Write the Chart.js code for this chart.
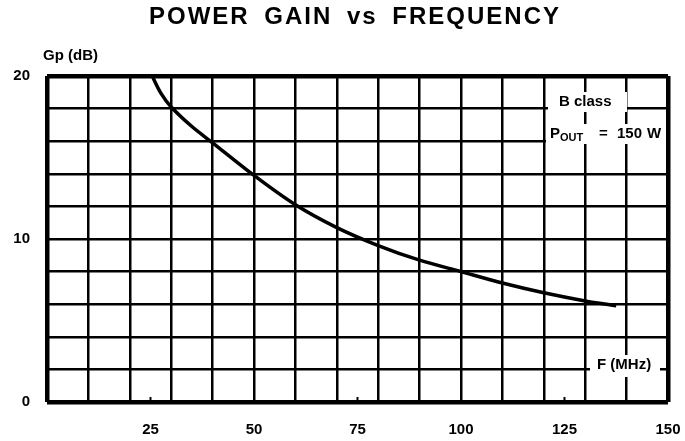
<!DOCTYPE html>
<html>
<head>
<meta charset="utf-8">
<script src="https://cdn.jsdelivr.net/npm/chart.js@4.4.0/dist/chart.umd.min.js"></script>
<style>
  html, body { margin: 0; padding: 0; background: #fff; }
  #wrap { width: 685px; height: 441px; position: relative; }
</style>
</head>
<body>
<div id="wrap"><canvas id="myChart"></canvas></div>
<script>
// data //
const freqMHz = [25.4, 27.5, 30, 35, 40, 50, 60, 70, 80, 90, 100, 110, 120, 130, 137.5];
const gainDb  = [20, 18.95, 18.1, 16.9, 15.9, 13.9, 12.1, 10.7, 9.6, 8.7, 8.0, 7.3, 6.7, 6.2, 5.9];
const xLabels = [25, 50, 75, 100, 125, 150];
const yLabels = [0, 10, 20];

const FONT = "'Liberation Sans', Arial, sans-serif";

// texts on the grid, drawn with a white box behind them
const notes = {
    id: 'notes',
    afterDraw(chart) {
        const c = chart.ctx;
        const a = chart.chartArea;
        c.save();
        c.fillStyle = '#000';
        c.textBaseline = 'middle';

        // title
        c.font = "bold 24px " + FONT;
        c.letterSpacing = '2px';
        c.wordSpacing = '6px';
        c.textAlign = 'center';
        c.fillText('POWER GAIN vs FREQUENCY', 355, 17);
        c.letterSpacing = '0px';
        c.wordSpacing = '0px';

        // y axis name
        c.textAlign = 'left';
        c.font = "bold 15px " + FONT;
        c.fillText('Gp (dB)', 43, 56);

        function box(x, y, w, h) {
            c.fillStyle = '#fff';
            c.fillRect(x, y, w, h);
            c.fillStyle = '#000';
        }

        // B class
        box(548, 92, 79, 20);
        c.fillText('B class', 559, 102);

        // POUT = 150 W
        box(546, 124, 120, 20);
        c.fillText('P', 550, 134);
        let x = 550 + c.measureText('P').width;
        c.font = "bold 11px " + FONT;
        c.fillText('OUT', x, 138);
        c.font = "bold 15px " + FONT;
        c.fillText('=', 599, 134);
        c.fillText('150', 617, 134);
        c.fillText('W', 647, 134);

        // F (MHz)
        box(590, 355, 70, 22);
        c.fillText('F (MHz)', 597, 365);

        // little notches on the bottom edge
        c.strokeStyle = '#000';
        c.lineWidth = 2;
        [25, 75, 125].forEach(v => {
            const px = chart.scales.x.getPixelForValue(v);
            c.beginPath();
            c.moveTo(px, a.bottom);
            c.lineTo(px, a.bottom - 5);
            c.stroke();
        });
        c.restore();
    }
};

let ctx = document.getElementById('myChart').getContext('2d');
let myChart = new Chart(ctx, {
    type: 'scatter',
    data: {
        datasets: [{
            label: 'Gp',
            data: freqMHz.map((f, i) => ({ x: f, y: gainDb[i] })),
            showLine: true,
            borderColor: '#000',
            borderWidth: 3.5,
            pointRadius: 0,
            tension: 0.3
        }]
    },
    options: {
        responsive: true,
        maintainAspectRatio: false,
        animation: false,
        layout: { padding: { top: 76, right: 17, left: 0, bottom: 0 } },
        plugins: {
            legend: { display: false },
            tooltip: { enabled: false }
        },
        scales: {
            x: {
                type: 'linear',
                min: 0,
                max: 150,
                afterBuildTicks(scale) {
                    const t = [];
                    for (let v = 0; v <= 150; v += 5) t.push({ value: v });
                    scale.ticks = t;
                },
                afterFit(scale) {
                    scale.height = 39;
                    scale.paddingLeft = 0;
                    scale.paddingRight = 0;
                },
                border: { display: false },
                grid: {
                    drawTicks: false,
                    color: c => (c.tick && c.tick.value % 10 === 0) ? '#000' : 'rgba(0,0,0,0)',
                    lineWidth: c => (c.tick && (c.tick.value === 0 || c.tick.value === 150)) ? 4.5 : 2.5
                },
                ticks: {
                    autoSkip: false,
                    maxRotation: 0,
                    padding: 19,
                    color: '#000',
                    font: { family: FONT, size: 15, weight: 'bold' },
                    callback: v => xLabels.includes(v) ? String(v) : ''
                }
            },
            y: {
                min: 0,
                max: 20,
                afterBuildTicks(scale) {
                    const t = [];
                    for (let v = 0; v <= 20; v += 2) t.push({ value: v });
                    scale.ticks = t;
                },
                afterFit(scale) {
                    scale.width = 47;
                    scale.paddingTop = 0;
                    scale.paddingBottom = 0;
                },
                border: { display: false },
                grid: {
                    drawTicks: false,
                    color: '#000',
                    lineWidth: c => (c.tick && (c.tick.value === 0 || c.tick.value === 20)) ? 4.5 : 2.5
                },
                ticks: {
                    autoSkip: false,
                    padding: 17,
                    color: '#000',
                    font: { family: FONT, size: 15, weight: 'bold' },
                    callback: v => yLabels.includes(v) ? String(v) : ''
                }
            }
        }
    },
    plugins: [notes]
});
</script>
</body>
</html>
